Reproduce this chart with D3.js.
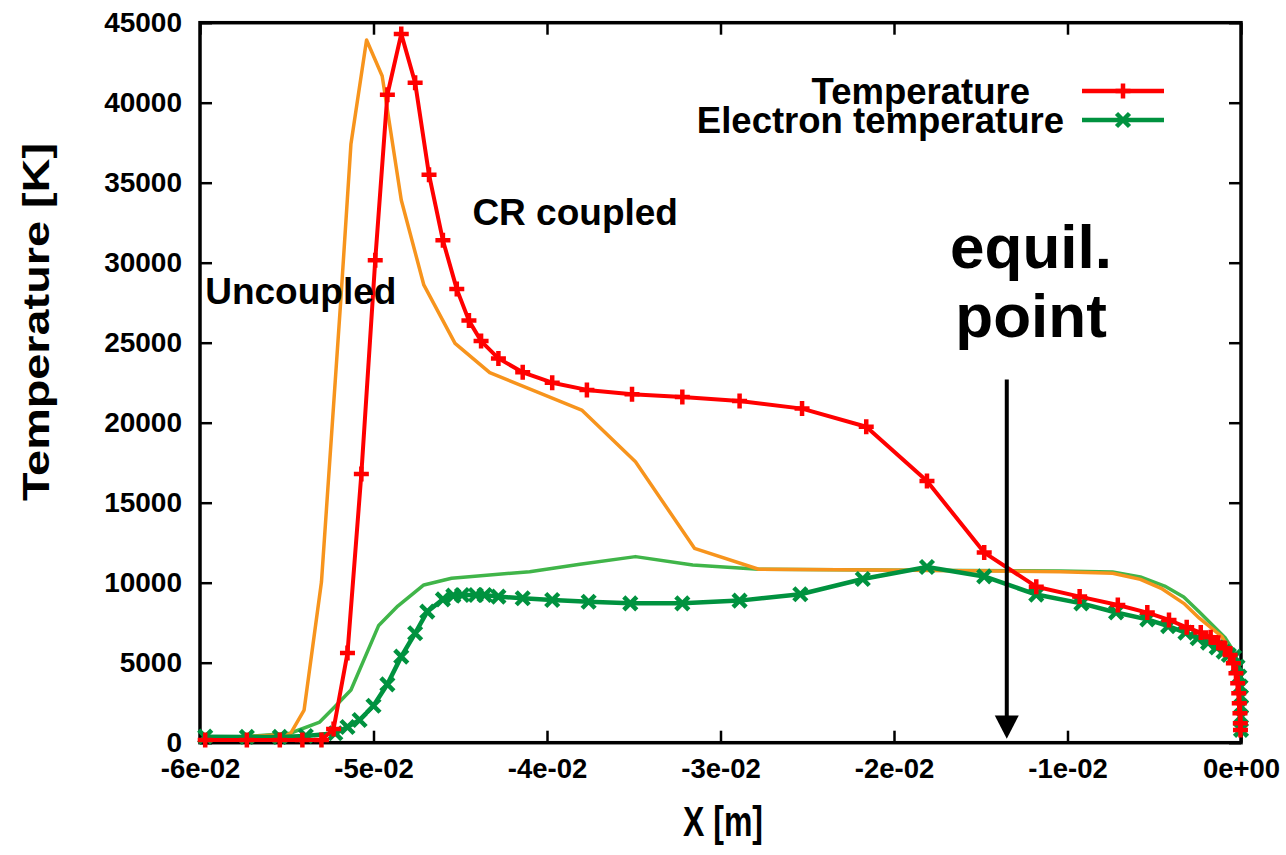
<!DOCTYPE html>
<html>
<head>
<meta charset="utf-8">
<script src="https://cdn.jsdelivr.net/npm/d3@7"></script>
<style>
  body { margin: 0; background: #fff; }
  text { font-family: "Liberation Sans", Arial, Helvetica, sans-serif; font-weight: bold; fill: #000; }
</style>
</head>
<body>
<div id="chart"></div>
<script>
// Temperature (CR coupled), red with + markers
const tempX = [-0.0597, -0.0573, -0.0554, -0.0541, -0.0530, -0.0523, -0.0515, -0.0507, -0.0499, -0.0492,
  -0.0484, -0.0476, -0.0468, -0.0460, -0.0452, -0.0445, -0.0438, -0.0428, -0.0414, -0.0397,
  -0.0377, -0.0351, -0.0322, -0.0289, -0.0253, -0.0216, -0.0181, -0.0148, -0.0118, -0.0093,
  -0.0071, -0.0054, -0.00415, -0.00313, -0.00232, -0.00175, -0.00131, -0.00092, -0.00063, -0.00044,
  -0.00029, -0.00019, -0.00013, -0.0001, -0.00006, -0.00004, -0.00003];
const tempY = [170, 170, 170, 170, 170, 860, 5600, 16800, 30150, 40500,
  44300, 41250, 35500, 31400, 28350, 26380, 25100, 24020, 23150, 22500,
  22050, 21780, 21600, 21350, 20880, 19750, 16360, 11880, 9750, 9130,
  8610, 8130, 7670, 7210, 6880, 6590, 6250, 5900, 5480, 4960,
  4340, 3710, 3090, 2460, 1840, 1210, 800];

// Electron temperature (CR coupled), dark green with x markers
const elecX = [-0.0597, -0.0573, -0.0554, -0.0539, -0.0522, -0.0515, -0.0508, -0.0500, -0.0492, -0.0484,
  -0.0476, -0.0469, -0.0460, -0.0454, -0.0449, -0.0441, -0.0436, -0.0428, -0.0414, -0.0397,
  -0.0376, -0.0352, -0.0322, -0.0289, -0.0254, -0.0218, -0.0181, -0.0148, -0.0118, -0.0092,
  -0.0072, -0.0054, -0.0042, -0.0032, -0.0025, -0.0019, -0.0014, -0.0010, -0.0007, -0.0004,
  -0.0002, -0.0001, -0.00003, 0, 0, 0, 0];
const elecY = [375, 360, 360, 420, 590, 980, 1420, 2310, 3650, 5380,
  6840, 8190, 8960, 9190, 9230, 9230, 9230, 9130, 9030, 8920,
  8810, 8710, 8710, 8880, 9280, 10230, 10980, 10390, 9260, 8710,
  8140, 7710, 7290, 6880, 6530, 6250, 5960, 5690, 5480, 5360,
  4750, 4130, 3500, 2880, 2250, 1630, 800];

// Uncoupled temperature, orange line
const uncTempX = [-0.0600, -0.0548, -0.0540, -0.0530, -0.0519, -0.0513, -0.0504, -0.0495, -0.0484, -0.0471,
  -0.0453, -0.0433, -0.0380, -0.0349, -0.0315, -0.0278, -0.0190, -0.0104, -0.0074, -0.0058,
  -0.0046, -0.0033, -0.0024, -0.0011, -0.0005, -0.0002, -0.00006, 0];
const uncTempY = [170, 540, 2040, 10040, 27420, 37420, 43920, 41670, 33920, 28610,
  24960, 23130, 20790, 17560, 12150, 10840, 10780, 10690, 10590, 10210,
  9650, 8710, 7780, 6630, 5480, 4230, 2670, 800];

// Uncoupled electron temperature, light green line
const uncElecX = [-0.0600, -0.0548, -0.0531, -0.0523, -0.0513, -0.0497, -0.0486, -0.0471, -0.0455, -0.0410,
  -0.0381, -0.0349, -0.0316, -0.0278, -0.0190, -0.0104, -0.0074, -0.0058, -0.0044, -0.0033,
  -0.0024, -0.0009, -0.0004, -0.00017, -0.00003, 0];
const uncElecY = [170, 590, 1290, 2170, 3290, 7330, 8540, 9860, 10280, 10690,
  11150, 11630, 11110, 10840, 10780, 10730, 10670, 10360, 9790, 9110,
  8170, 6540, 5670, 4670, 2670, 800];

const xTicks = [-0.06, -0.05, -0.04, -0.03, -0.02, -0.01, 0];
const xTickLabels = ['-6e-02', '-5e-02', '-4e-02', '-3e-02', '-2e-02', '-1e-02', '0e+00'];
const yTicks = [0, 5000, 10000, 15000, 20000, 25000, 30000, 35000, 40000, 45000];
const legendLabels = ['Temperature', 'Electron temperature'];

const width = 1286;
const height = 855;
const margin = { top: 22.7, right: 45, bottom: 112.3, left: 200 };
const innerW = width - margin.left - margin.right;
const innerH = height - margin.top - margin.bottom;

const svg = d3.select('#chart').append('svg')
  .attr('width', width)
  .attr('height', height);

svg.append('rect').attr('width', width).attr('height', height).attr('fill', '#fff');

const g = svg.append('g')
  .attr('transform', `translate(${margin.left},${margin.top})`);

const x = d3.scaleLinear().domain([-0.06, 0]).range([0, innerW]);
const y = d3.scaleLinear().domain([0, 45000]).range([innerH, 0]);

// axes (gnuplot style: inward ticks, mirrored)
const tickLen = 12;
const bottomAxis = g.append('g')
  .attr('transform', `translate(0,${innerH})`)
  .call(d3.axisBottom(x).tickValues(xTicks).tickSizeInner(-tickLen).tickSizeOuter(0)
    .tickPadding(16).tickFormat((d, i) => xTickLabels[i]));
const topAxis = g.append('g')
  .call(d3.axisTop(x).tickValues(xTicks).tickSizeInner(-tickLen).tickSizeOuter(0).tickFormat(''));
const leftAxis = g.append('g')
  .call(d3.axisLeft(y).tickValues(yTicks).tickSizeInner(-tickLen).tickSizeOuter(0)
    .tickPadding(18).tickFormat(d3.format('d')));
const rightAxis = g.append('g')
  .attr('transform', `translate(${innerW},0)`)
  .call(d3.axisRight(y).tickValues(yTicks).tickSizeInner(-tickLen).tickSizeOuter(0).tickFormat(''));

[bottomAxis, topAxis, leftAxis, rightAxis].forEach(a => {
  a.select('.domain').remove();
  a.selectAll('line').attr('stroke', '#000').attr('stroke-width', 2.5);
});
bottomAxis.selectAll('text')
  .attr('font-size', 27.5).attr('dy', '0.71em')
  .attr('font-family', '"Liberation Sans", Arial, sans-serif').attr('font-weight', 'bold');
leftAxis.selectAll('text')
  .attr('font-size', 28)
  .attr('font-family', '"Liberation Sans", Arial, sans-serif').attr('font-weight', 'bold');

// plot frame
g.append('rect')
  .attr('width', innerW).attr('height', innerH)
  .attr('fill', 'none').attr('stroke', '#000').attr('stroke-width', 3.5);

const line = d3.line().x(d => x(d[0])).y(d => y(d[1]));
const zip = (xs, ys) => xs.map((v, i) => [v, ys[i]]);

const plus = 'M-7.5,0H7.5M0,-7.5V7.5';
const cross = 'M-6.5,-6.5L6.5,6.5M6.5,-6.5L-6.5,6.5';

const series = [
  { data: zip(uncElecX, uncElecY), color: '#40b549', width: 3.5 },
  { data: zip(uncTempX, uncTempY), color: '#f7941d', width: 3.5 },
  { data: zip(elecX, elecY), color: '#00923f', width: 4.5, marker: cross },
  { data: zip(tempX, tempY), color: '#ff0000', width: 4, marker: plus },
];

series.forEach(s => {
  g.append('path')
    .datum(s.data)
    .attr('fill', 'none')
    .attr('stroke', s.color)
    .attr('stroke-width', s.width)
    .attr('stroke-linejoin', 'round')
    .attr('d', line);
  if (s.marker) {
    g.append('g').selectAll('path')
      .data(s.data)
      .join('path')
      .attr('transform', d => `translate(${x(d[0])},${y(d[1])})`)
      .attr('d', s.marker)
      .attr('stroke', s.color)
      .attr('stroke-width', 4.5)
      .attr('fill', 'none');
  }
});

// legend
const legend = svg.append('g');
const legendItems = [
  { label: legendLabels[0], color: '#ff0000', marker: plus, textEnd: 1030, y: 91 },
  { label: legendLabels[1], color: '#00923f', marker: cross, textEnd: 1064, y: 120 },
];
legendItems.forEach(item => {
  legend.append('text')
    .attr('x', item.textEnd).attr('y', item.y)
    .attr('dy', '0.36em')
    .attr('text-anchor', 'end')
    .attr('font-size', 36.5)
    .text(item.label);
  legend.append('line')
    .attr('x1', 1082).attr('x2', 1164)
    .attr('y1', item.y).attr('y2', item.y)
    .attr('stroke', item.color).attr('stroke-width', 4.5);
  legend.append('path')
    .attr('transform', `translate(1123,${item.y})`)
    .attr('d', item.marker)
    .attr('stroke', item.color).attr('stroke-width', 4.5).attr('fill', 'none');
});

// annotations (placed in data coordinates, like gnuplot labels)
g.append('text')
  .attr('x', x(-0.0597)).attr('y', y(27400))
  .attr('font-size', 37)
  .text('Uncoupled');
g.append('text')
  .attr('x', x(-0.0443)).attr('y', y(32350))
  .attr('font-size', 37)
  .text('CR coupled');
g.append('text')
  .attr('x', x(-0.0121)).attr('y', y(29650))
  .attr('text-anchor', 'middle')
  .attr('font-size', 62)
  .text('equil.');
g.append('text')
  .attr('x', x(-0.0121)).attr('y', y(25350))
  .attr('text-anchor', 'middle')
  .attr('font-size', 62)
  .text('point');

// equilibrium arrow
const arrowX = x(-0.0135);
g.append('line')
  .attr('x1', arrowX).attr('x2', arrowX)
  .attr('y1', y(22700)).attr('y2', y(1500))
  .attr('stroke', '#000').attr('stroke-width', 4);
g.append('path')
  .attr('d', `M${arrowX - 12},${y(1700)}L${arrowX + 12},${y(1700)}L${arrowX},${y(250)}Z`)
  .attr('fill', '#000');

// axis titles
svg.append('text')
  .attr('transform', 'translate(49,322) rotate(-90) scale(1.3,1)')
  .attr('text-anchor', 'middle')
  .attr('font-size', 36)
  .text('Temperature [K]');
svg.append('text')
  .attr('transform', 'translate(723,836) scale(1,1.3)')
  .attr('text-anchor', 'middle')
  .attr('font-size', 32)
  .text('X [m]');
</script>
</body>
</html>
